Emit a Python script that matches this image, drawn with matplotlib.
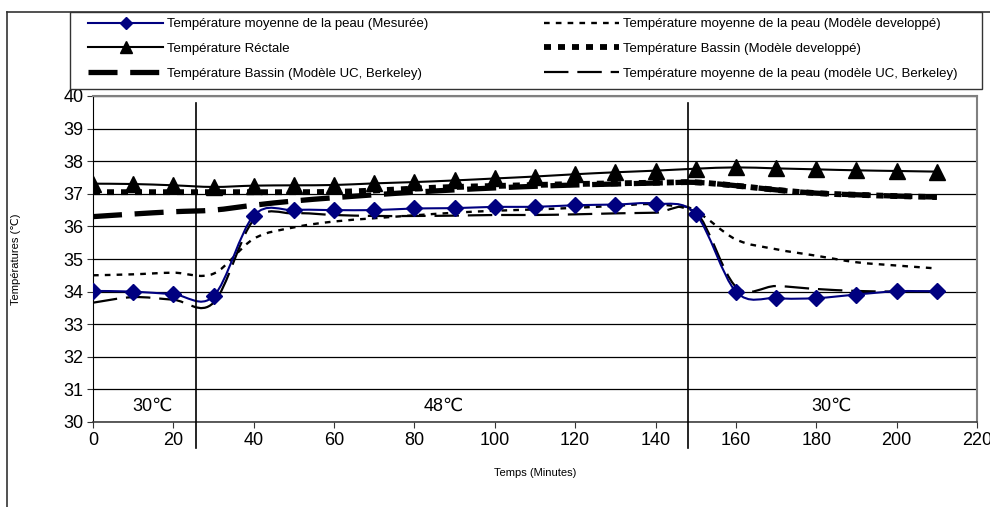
import numpy as np
import matplotlib
matplotlib.use("Agg")
import matplotlib.pyplot as plt
from matplotlib.path import Path
from matplotlib.patches import PathPatch, Rectangle
from matplotlib.lines import Line2D

plt.rcParams['font.family'] = ['Liberation Sans', 'DejaVu Sans']

# temps (minutes)
temps = [0, 10, 20, 30, 40, 50, 60, 70, 80, 90, 100, 110, 120, 130, 140, 150, 160, 170, 180, 190, 200, 210]

peau_mesuree = [34.02, 34.0, 33.92, 33.86, 36.33, 36.5, 36.5, 36.5, 36.55, 36.56, 36.6, 36.6, 36.65, 36.67,
                36.7, 36.38, 34.0, 33.8, 33.8, 33.91, 34.01, 34.01]
peau_dev = [34.5, 34.53, 34.58, 34.55, 35.62, 35.97, 36.15, 36.25, 36.34, 36.42, 36.48, 36.52, 36.57, 36.63,
            36.68, 36.45, 35.6, 35.3, 35.1, 34.9, 34.8, 34.71]
rectale = [37.31, 37.3, 37.26, 37.21, 37.25, 37.26, 37.27, 37.32, 37.36, 37.41, 37.47, 37.53, 37.6, 37.66,
           37.71, 37.77, 37.81, 37.78, 37.75, 37.72, 37.7, 37.68]
bassin_dev = [37.05, 37.05, 37.05, 37.05, 37.05, 37.05, 37.06, 37.1, 37.16, 37.21, 37.24, 37.27, 37.3, 37.32,
              37.34, 37.35, 37.25, 37.12, 37.02, 36.97, 36.93, 36.9]
bassin_uc = [36.3, 36.38, 36.45, 36.5, 36.65, 36.78, 36.88, 36.97, 37.05, 37.12, 37.18, 37.23, 37.27, 37.3,
             37.33, 37.35, 37.25, 37.12, 37.02, 36.97, 36.93, 36.9]
peau_uc = [33.66, 33.83, 33.75, 33.66, 36.2, 36.4, 36.35, 36.32, 36.32, 36.33, 36.35, 36.35, 36.37, 36.4,
           36.42, 36.45, 34.15, 34.17, 34.08, 34.02, 34.0, 34.0]

labels = ["Température moyenne de la peau (Mesurée)",
          "Température Réctale",
          "Température Bassin (Modèle UC, Berkeley)",
          "Température moyenne de la peau (Modèle developpé)",
          "Température Bassin (Modèle developpé)",
          "Température moyenne de la peau (modèle UC, Berkeley)"]

# limites des phases et etiquettes
phases_limites = [25.7, 148]
phases_txt = ["30\u2103", "48\u2103", "30\u2103"]
phases_x = [14.7, 87.4, 183.7]


def courbe_lissee(x, y):
    # lissage type Excel (Catmull-Rom -> Bezier)
    pts = np.column_stack([x, y]).astype(float)
    n = len(pts)
    verts = [pts[0]]
    codes = [Path.MOVETO]
    for i in range(n - 1):
        p0 = pts[i - 1] if i > 0 else pts[i]
        p1 = pts[i]
        p2 = pts[i + 1]
        p3 = pts[i + 2] if i + 2 < n else pts[i + 1]
        verts += [p1 + (p2 - p0) / 6, p2 - (p3 - p1) / 6, p2]
        codes += [Path.CURVE4] * 3
    return Path(verts, codes)


fig = plt.figure(figsize=(9.9, 5.07), dpi=100)
ax = fig.add_axes([93 / 990, 1 - 422 / 507, 884 / 990, 326 / 507])

styles = {
    'bassin_uc': dict(color='black', lw=3.8, ls=(0, (5.5, 2.4))),
    'bassin_dev': dict(color='black', lw=4.2, ls=(0, (1.2, 1.2))),
    'peau_uc': dict(color='black', lw=1.6, ls=(0, (11, 4))),
    'peau_dev': dict(color='black', lw=1.7, ls=(0, (2.4, 2.6))),
    'rectale': dict(color='black', lw=1.5, ls='-'),
    'mesuree': dict(color='#000080', lw=1.5, ls='-'),
}

series = [('bassin_uc', bassin_uc), ('bassin_dev', bassin_dev), ('peau_uc', peau_uc),
          ('peau_dev', peau_dev), ('rectale', rectale), ('mesuree', peau_mesuree)]
for nom, vals in series:
    st = styles[nom]
    patch = PathPatch(courbe_lissee(temps, vals), fill=False, edgecolor=st['color'],
                      lw=st['lw'], linestyle=st['ls'], zorder=3)
    ax.add_patch(patch)
    if nom == 'rectale':
        ax.plot(temps, vals, ls='none', marker='^', ms=11, color='black', zorder=4)
    if nom == 'mesuree':
        ax.plot(temps, vals, ls='none', marker='D', ms=8.5, color='#000080', zorder=5)

ax.set_xlim(0, 220)
ax.set_ylim(30, 40)
ax.set_xticks(np.arange(0, 221, 20))
ax.set_yticks(np.arange(30, 41, 1))
ax.yaxis.grid(True, color='black', lw=0.9)
ax.set_axisbelow(True)
ax.tick_params(axis='both', labelsize=13, direction='out', length=4, width=0.8, colors='#333333',
               labelcolor='black', pad=3)
for s in ['top', 'right']:
    ax.spines[s].set_color('#808080')
    ax.spines[s].set_linewidth(1.5)
ax.spines['left'].set_color('black')
ax.spines['bottom'].set_color('#404040')
ax.spines['bottom'].set_linewidth(1.2)

for xl in phases_limites:
    ax.plot([xl, xl], [29.2, 39.8], color='black', lw=1.2, clip_on=False, zorder=6)
for txt, xt in zip(phases_txt, phases_x):
    ax.text(xt, 30.47, txt, fontsize=13, ha='center', va='center')

ax.set_xlabel("Temps (Minutes)", fontsize=8)
ax.xaxis.set_label_coords(0.5, -0.142)
ax.set_ylabel("Températures (\u2103)", fontsize=8)
ax.yaxis.set_label_coords(-0.081, 0.5)

# cadre exterieur
fig.add_artist(Line2D([7 / 990, 7 / 990], [0, 1 - 12 / 507], color='#333333', lw=1.2))
fig.add_artist(Line2D([7 / 990, 1], [1 - 12 / 507, 1 - 12 / 507], color='#333333', lw=1.2))

# legende
fig.add_artist(Rectangle((70 / 990, 1 - 89 / 507), 912 / 990, 77 / 507, fill=False,
                         edgecolor='#333333', lw=1.0, transform=fig.transFigure))

def poignee(nom):
    st = styles[nom]
    kw = dict(color=st['color'], lw=st['lw'], ls=st['ls'])
    if nom == 'rectale':
        kw.update(marker='^', ms=9)
    if nom == 'mesuree':
        kw.update(marker='D', ms=6)
    return Line2D([], [], **kw)

gauche = [poignee('mesuree'), poignee('rectale'), poignee('bassin_uc')]
droite = [poignee('peau_dev'), poignee('bassin_dev'), poignee('peau_uc')]
opts = dict(loc='upper left', frameon=False, fontsize=9.5, borderpad=0, borderaxespad=0,
            handlelength=5.7, handletextpad=0.3, labelspacing=0.95)
fig.legend(gauche, labels[:3], bbox_to_anchor=(88 / 990, 1 - 18 / 507), **opts)
fig.legend(droite, labels[3:], bbox_to_anchor=(544 / 990, 1 - 18 / 507), **opts)

fig.savefig("out.png", dpi=100)
